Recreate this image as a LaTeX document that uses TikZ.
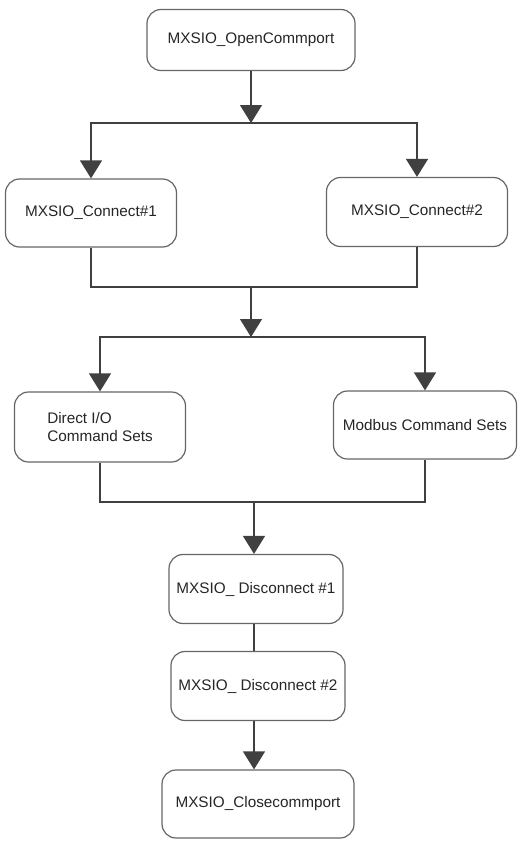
\documentclass[tikz,border=0pt]{standalone}
\usepackage{fontspec}
\setmainfont{Liberation Sans}
\usetikzlibrary{arrows.meta}
\tikzset{>={Triangle[width=22pt,length=18pt]}}
\tikzset{
  proc/.style={draw=black!60,line width=1.2pt,rounded corners=14pt,
    fill=white,inner sep=0pt,align=center,text=black!85,
    font=\fontsize{15.3}{18}\selectfont},
  link/.style={draw=black!75,line width=1.3pt}
}

\begin{document}
\begin{tikzpicture}[x=1pt,y=-1pt]
\useasboundingbox (0,0) rectangle (529,843);

% boxes
\node[proc,minimum width=208pt,minimum height=61pt] (open) at (251,40) {MXSIO\_OpenCommport};
\node[proc,minimum width=171pt,minimum height=68pt] (conA) at (91,213) {MXSIO\_Connect\#1};
\node[proc,minimum width=181pt,minimum height=69pt] (conB) at (417,212) {MXSIO\_Connect\#2};
\node[proc,minimum width=171pt,minimum height=70pt,align=left] (dio) at (100,427) {Direct I/O\\Command Sets};
\node[proc,minimum width=183pt,minimum height=68pt] (modbus) at (425,425) {Modbus Command Sets};
\node[proc,minimum width=174pt,minimum height=69pt] (disA) at (256,589) {MXSIO\_ Disconnect \#1};
\node[proc,minimum width=174pt,minimum height=69pt] (disB) at (258,686) {MXSIO\_ Disconnect \#2};
\node[proc,minimum width=192pt,minimum height=68pt] (close) at (258,804) {MXSIO\_Closecommport};

% split and merge points
\coordinate (s1) at (251,123);
\coordinate (m1) at (251,287);
\coordinate (s2) at (251,337);
\coordinate (m2) at (254,502);

\draw[link,->] (open) -- (s1);
\draw[link,->] (s1) -| (conA);
\draw[link,->] (s1) -| (conB);
\draw[link] (conA) |- (m1) -| (conB);
\draw[link,->] (m1) -- (s2);
\draw[link,->] (s2) -| (dio);
\draw[link,->] (s2) -| (modbus);
\draw[link] (dio) |- (m2) -| (modbus);
\draw[link,->] (m2) -- (m2 |- disA.north);
\draw[link] (disA.south -| m2) -- (disB.north -| m2);
\draw[link,->] (disB.south -| m2) -- (close.north -| m2);
\end{tikzpicture}
\end{document}
